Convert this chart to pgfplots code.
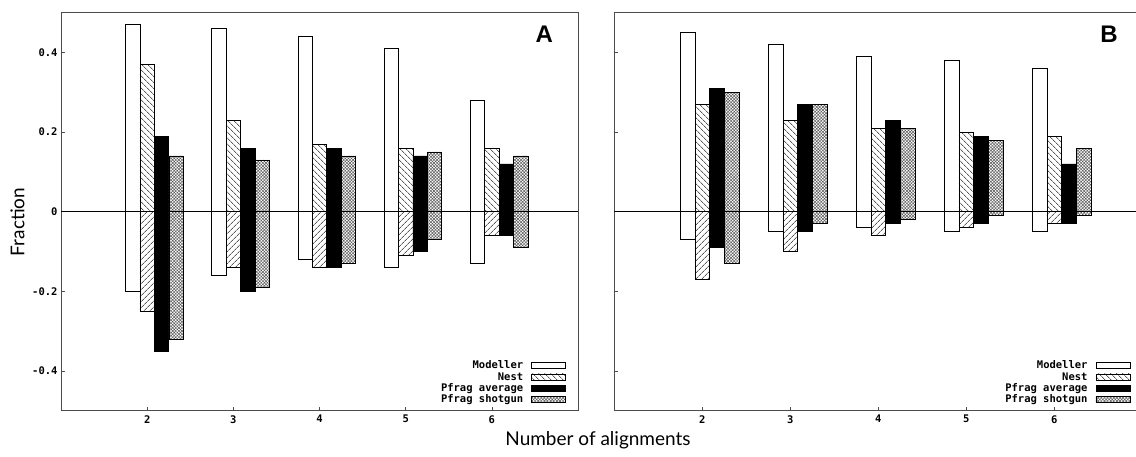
\documentclass[border=0pt]{standalone}
\usepackage{pgfplots}
\usepackage{pgfplotstable}
\pgfplotsset{compat=1.18}
\usepackage{fontspec}
\setmainfont{Lato}
\newfontfamily\gp{DejaVu Sans Mono}
\newfontfamily\lab{Liberation Sans}
\usetikzlibrary{patterns.meta}

% columns: positive / negative part of each method
\pgfplotstableread{
x  mp    mn     np    nn     ap    an     sp    sn
2  0.47  -0.20  0.37  -0.25  0.19  -0.35  0.14  -0.32
3  0.46  -0.16  0.23  -0.14  0.16  -0.20  0.13  -0.19
4  0.44  -0.12  0.17  -0.14  0.16  -0.14  0.14  -0.13
5  0.41  -0.14  0.16  -0.11  0.14  -0.10  0.15  -0.07
6  0.28  -0.13  0.16  -0.06  0.12  -0.06  0.14  -0.09
}\dataA

\pgfplotstableread{
x  mp    mn     np    nn     ap    an     sp    sn
2  0.45  -0.07  0.27  -0.17  0.31  -0.09  0.30  -0.13
3  0.42  -0.05  0.23  -0.10  0.27  -0.05  0.27  -0.03
4  0.39  -0.04  0.21  -0.06  0.23  -0.03  0.21  -0.02
5  0.38  -0.05  0.20  -0.04  0.19  -0.03  0.18  -0.01
6  0.36  -0.05  0.19  -0.03  0.12  -0.03  0.16  -0.01
}\dataB

\pgfplotsset{
  gpbar/.style={ybar, bar width=0.167, draw=black, line width=0.6pt,
    legend image code/.code={\draw[##1] (0pt,-3pt) rectangle (34pt,3pt);}},
  panel/.style={
    anchor=south west, scale only axis, width=#1, height=398pt,
    xmin=1, xmax=7, ymin=-0.5, ymax=0.5,
    xtick={2,3,4,5,6}, xticklabels={2,3,4,5,6},
    ytick={-0.4,-0.2,0,0.2,0.4},
    tick align=inside, tick pos=left, major tick length=4pt,
    ticklabel style={font=\gp\bfseries\fontsize{10.5}{12}\selectfont},
    xticklabel style={yshift=-1pt},
    axis line style={black!70, line width=0.6pt},
    every tick/.style={black!70, line width=0.6pt},
    legend cell align=right, legend plot pos=right,
    legend style={at={(1,0)}, anchor=south east, xshift=-12pt, yshift=4pt,
      draw=none, fill=none, inner sep=0pt, row sep=-2pt,
      /tikz/every odd column/.append style={column sep=6pt},
      font=\gp\bfseries\fontsize{10.5}{12}\selectfont},
  },
}

\newcommand{\bars}[1]{
  \addplot[gpbar, bar shift=-0.168, fill=white] table[x=x,y=mp]{#1};
  \addlegendentry{Modeller}
  \addplot[gpbar, bar shift=-0.168, fill=white, forget plot] table[x=x,y=mn]{#1};
  \addplot[gpbar, bar shift=0, pattern={Lines[angle=-45,distance=4pt,line width=0.5pt]}] table[x=x,y=np]{#1};
  \addlegendentry{Nest}
  \addplot[gpbar, bar shift=0, pattern={Lines[angle=45,distance=4pt,line width=0.5pt]}, forget plot] table[x=x,y=nn]{#1};
  \addplot[gpbar, bar shift=0.167, fill=black] table[x=x,y=ap]{#1};
  \addlegendentry{Pfrag average}
  \addplot[gpbar, bar shift=0.167, fill=black, forget plot] table[x=x,y=an]{#1};
  \addplot[gpbar, bar shift=0.335, pattern={Hatch[angle=45,distance=2.2pt,line width=0.5pt]}, pattern color=black!65] table[x=x,y=sp]{#1};
  \addlegendentry{Pfrag shotgun}
  \addplot[gpbar, bar shift=0.335, pattern={Hatch[angle=45,distance=2.2pt,line width=0.5pt]}, pattern color=black!65, forget plot] table[x=x,y=sn]{#1};
  \addplot[black, line width=0.6pt, forget plot] coordinates {(1,0) (7,0)};
}

\begin{document}
\begin{tikzpicture}
\begin{axis}[panel=517pt, at={(61pt,46.3pt)},
  yticklabels={-0.4,-0.2,0,0.2,0.4}]
\bars{\dataA}
\end{axis}
\begin{axis}[panel=528pt, at={(614.3pt,46.3pt)}, yticklabels={}]
\bars{\dataB}
\end{axis}
\node[font=\lab\bfseries\fontsize{24}{24}\selectfont] at (544.3pt,422.7pt) {A};
\node[font=\lab\bfseries\fontsize{24}{24}\selectfont] at (1109pt,423pt) {B};
\node[rotate=90, font=\fontsize{19}{19}\selectfont] at (17.5pt,235pt) {Fraction};
\node[font=\fontsize{19}{19}\selectfont] at (598pt,17pt) {Number of alignments};
\pgfresetboundingbox
\path[use as bounding box] (0,0) rectangle (1136pt,457pt);
\end{tikzpicture}
\end{document}
